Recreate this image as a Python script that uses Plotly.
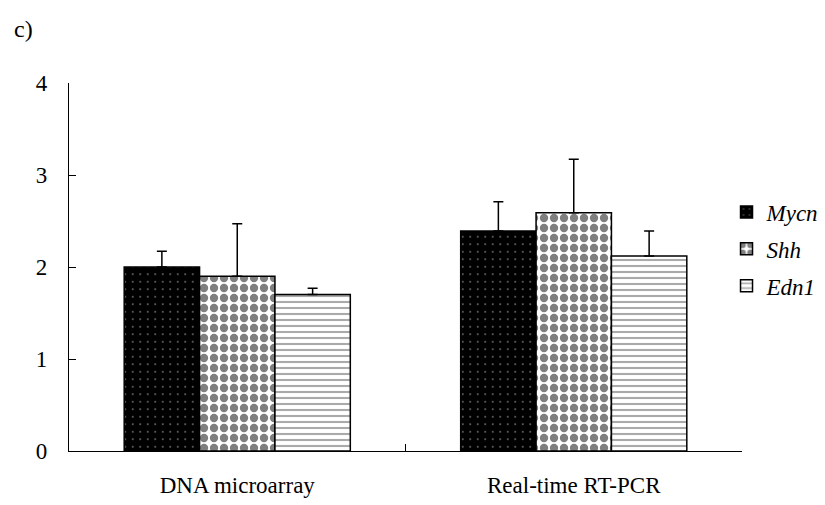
import plotly.graph_objects as go

categories = ["DNA microarray", "Real-time RT-PCR"]
genes = ["Mycn", "Shh", "Edn1"]
mycn_values = [2.00, 2.39]
shh_values = [1.90, 2.59]
edn1_values = [1.70, 2.12]
mycn_err = [0.17, 0.32]
shh_err = [0.57, 0.58]
edn1_err = [0.07, 0.27]
y_ticks = [0, 1, 2, 3, 4]

FONT = "'Liberation Serif', 'Times New Roman', Times, serif"

series = [
    (genes[0], mycn_values, mycn_err,
     dict(shape=".", bgcolor="black", fgcolor="white", size=7.5, solidity=0.04)),
    (genes[1], shh_values, shh_err,
     dict(shape=".", bgcolor="white", fgcolor="black", size=10, solidity=0.55)),
    (genes[2], edn1_values, edn1_err,
     dict(shape="-", bgcolor="white", fgcolor="#555555", size=6, solidity=0.35)),
]

fig = go.Figure()
for name, vals, errs, pat in series:
    fig.add_trace(go.Bar(
        x=categories, y=vals, name="<i>%s</i>" % name,
        legendgroup=name,
        marker=dict(color=pat["bgcolor"], pattern=pat,
                    line=dict(color="black", width=1.5)),
        error_y=dict(type="data", array=errs, symmetric=False,
                     arrayminus=[0] * len(errs),
                     color="black", thickness=1.5, width=5),
    ))

fig.update_layout(
    width=825, height=505,
    margin=dict(l=69, r=83, t=83, b=54, autoexpand=False),
    paper_bgcolor="white", plot_bgcolor="white",
    barmode="group", bargap=0.328, bargroupgap=0,
    font=dict(family=FONT, size=23, color="black"),
    showlegend=True,
    legend=dict(x=0.977, xanchor="left", y=0.708, yanchor="top",
                font=dict(family=FONT, size=23, color="black"),
                tracegroupgap=4, itemwidth=30, bgcolor="rgba(0,0,0,0)"),
)
fig.add_annotation(text="c)", xref="paper", yref="paper",
                   x=-0.085, y=1.147, xanchor="left", yanchor="middle",
                   showarrow=False, font=dict(family=FONT, size=24, color="black"))

fig.update_yaxes(range=[0, 4], tickvals=y_ticks, showgrid=False, zeroline=False,
                 showline=True, linecolor="black", linewidth=1.3,
                 ticks="inside", ticklen=7, tickcolor="black", tickwidth=1.3,
                 ticklabelstandoff=16)
fig.update_xaxes(showgrid=False, zeroline=False, showline=True,
                 linecolor="black", linewidth=1.3,
                 ticks="inside", ticklen=7, tickcolor="black", tickwidth=1.3,
                 tickson="boundaries", ticklabelstandoff=13)

fig.write_html("out.html")
